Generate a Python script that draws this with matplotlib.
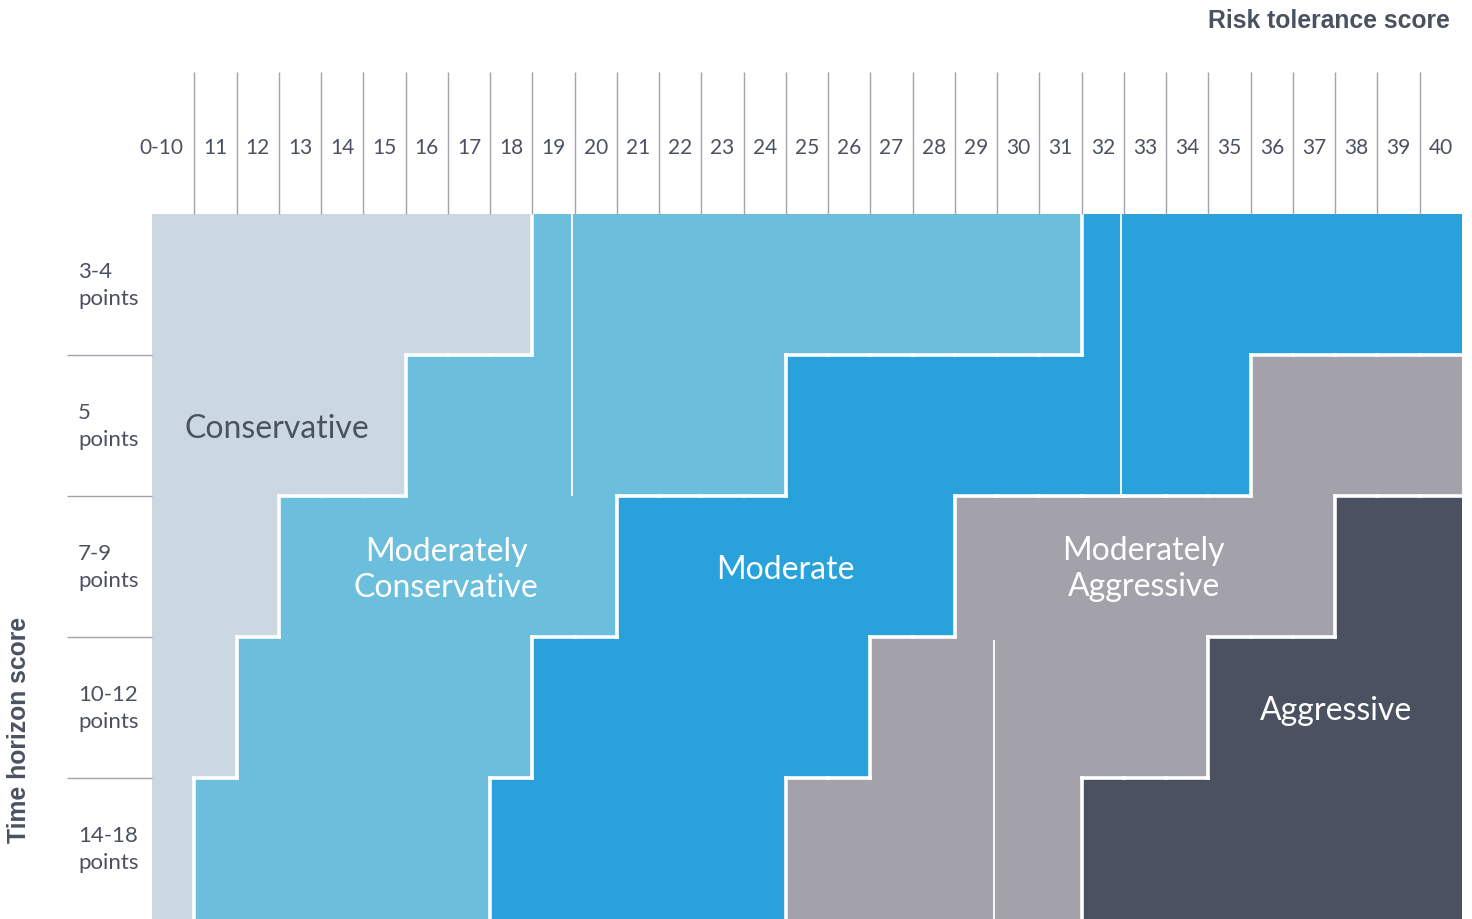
import numpy as np
import matplotlib
matplotlib.use("Agg")
import matplotlib.pyplot as plt

# risk tolerance score columns (x) and time horizon rows (y)
score_labels = ["0-10"] + [str(s) for s in range(11, 41)]
horizon_labels = ["3-4\npoints", "5\npoints", "7-9\npoints", "10-12\npoints", "14-18\npoints"]

categories = ["Conservative", "Moderately Conservative", "Moderate",
              "Moderately Aggressive", "Aggressive"]
cat_colors = ["#CBD8E1", "#6CBFDC", "#29A2DC", "#A3A1AA", "#4A5262"]

# number of score columns in each category, per time horizon row (left to right)
runs_34 = [9, 13, 9, 0, 0]
runs_5 = [6, 9, 11, 5, 0]
runs_79 = [3, 8, 8, 9, 3]
runs_1012 = [2, 7, 8, 8, 6]
runs_1418 = [1, 7, 7, 7, 9]
rows = [runs_34, runs_5, runs_79, runs_1012, runs_1418]

text_color = "#4A5261"
line_gray = "#A3A3AB"

plt.rcParams["font.family"] = ["Lato", "DejaVu Sans"]

fig = plt.figure(figsize=(14.72, 9.2), dpi=100)
ax = fig.add_axes([152 / 1472, 0, 1310 / 1472, 705 / 920])
ax.set_xlim(0, len(score_labels))
ax.set_ylim(len(rows), 0)
ax.axis("off")

# coloured cells
for r, runs in enumerate(rows):
    left = 0
    for k, n in enumerate(runs):
        if n:
            ax.barh(r, n, left=left, height=1.0, align="edge",
                    color=cat_colors[k], linewidth=0)
        left += n

# white edges between category regions
grid = np.array([np.repeat(np.arange(len(categories)), runs) for runs in rows])
nrow, ncol = grid.shape
for r in range(nrow):
    for c in range(ncol - 1):
        if grid[r, c] != grid[r, c + 1]:
            ax.vlines(c + 1, r, r + 1, color="white", lw=2.6, capstyle="projecting")
for r in range(nrow - 1):
    for c in range(ncol):
        if grid[r, c] != grid[r + 1, c]:
            ax.hlines(r + 1, c, c + 1, color="white", lw=2.6, capstyle="projecting")

# thin seams visible inside some regions
ax.vlines(9.94, 0, 2, color="white", lw=1.3)
ax.vlines(22.93, 0, 2, color="white", lw=1.3)
ax.vlines(19.93, 3.02, 5, color="white", lw=1.3)

# header: score labels with separators
ax.vlines(np.arange(1, ncol), -1.007, 0, color=line_gray, lw=1, clip_on=False)
for i, lab in enumerate(score_labels):
    if i == 0:
        # the wide first label sits flush against its separator
        ax.text(0.74, -0.475, lab, ha="right", va="center", fontsize=15,
                color=text_color, clip_on=False)
    else:
        ax.text(i + 0.5, -0.475, lab, ha="center", va="center", fontsize=15,
                color=text_color, clip_on=False)

# left: time horizon labels with separators
ax.hlines(np.arange(1, nrow), -2.01, 0, color=line_gray, lw=1, clip_on=False)
for r, lab in enumerate(horizon_labels):
    ax.text(-1.75, r + 0.5, lab, ha="left", va="center", fontsize=16,
            color=text_color, linespacing=1.4, clip_on=False)

# region names
ax.text(2.96, 1.515, "Conservative", ha="center", va="center", fontsize=23, color=text_color)
ax.text(6.96, 2.52, "Moderately\nConservative", ha="center", va="center", fontsize=23,
        color="white", linespacing=1.25)
ax.text(14.98, 2.52, "Moderate", ha="center", va="center", fontsize=23, color="white")
ax.text(23.47, 2.51, "Moderately\nAggressive", ha="center", va="center", fontsize=23,
        color="white", linespacing=1.25)
ax.text(28.01, 3.52, "Aggressive", ha="center", va="center", fontsize=23, color="white")

# axis titles
fig.text(1450 / 1472, 1 - 21 / 920, "Risk tolerance score", ha="right", va="center",
         fontsize=17.8, fontweight="bold", color=text_color, family="Liberation Sans")
fig.text(19 / 1472, 1 - 730 / 920, "Time horizon score", ha="center", va="center",
         rotation=90, fontsize=17.8, fontweight="bold", color=text_color,
         family="Liberation Sans")

fig.savefig("out.png", dpi=100, facecolor="white")
